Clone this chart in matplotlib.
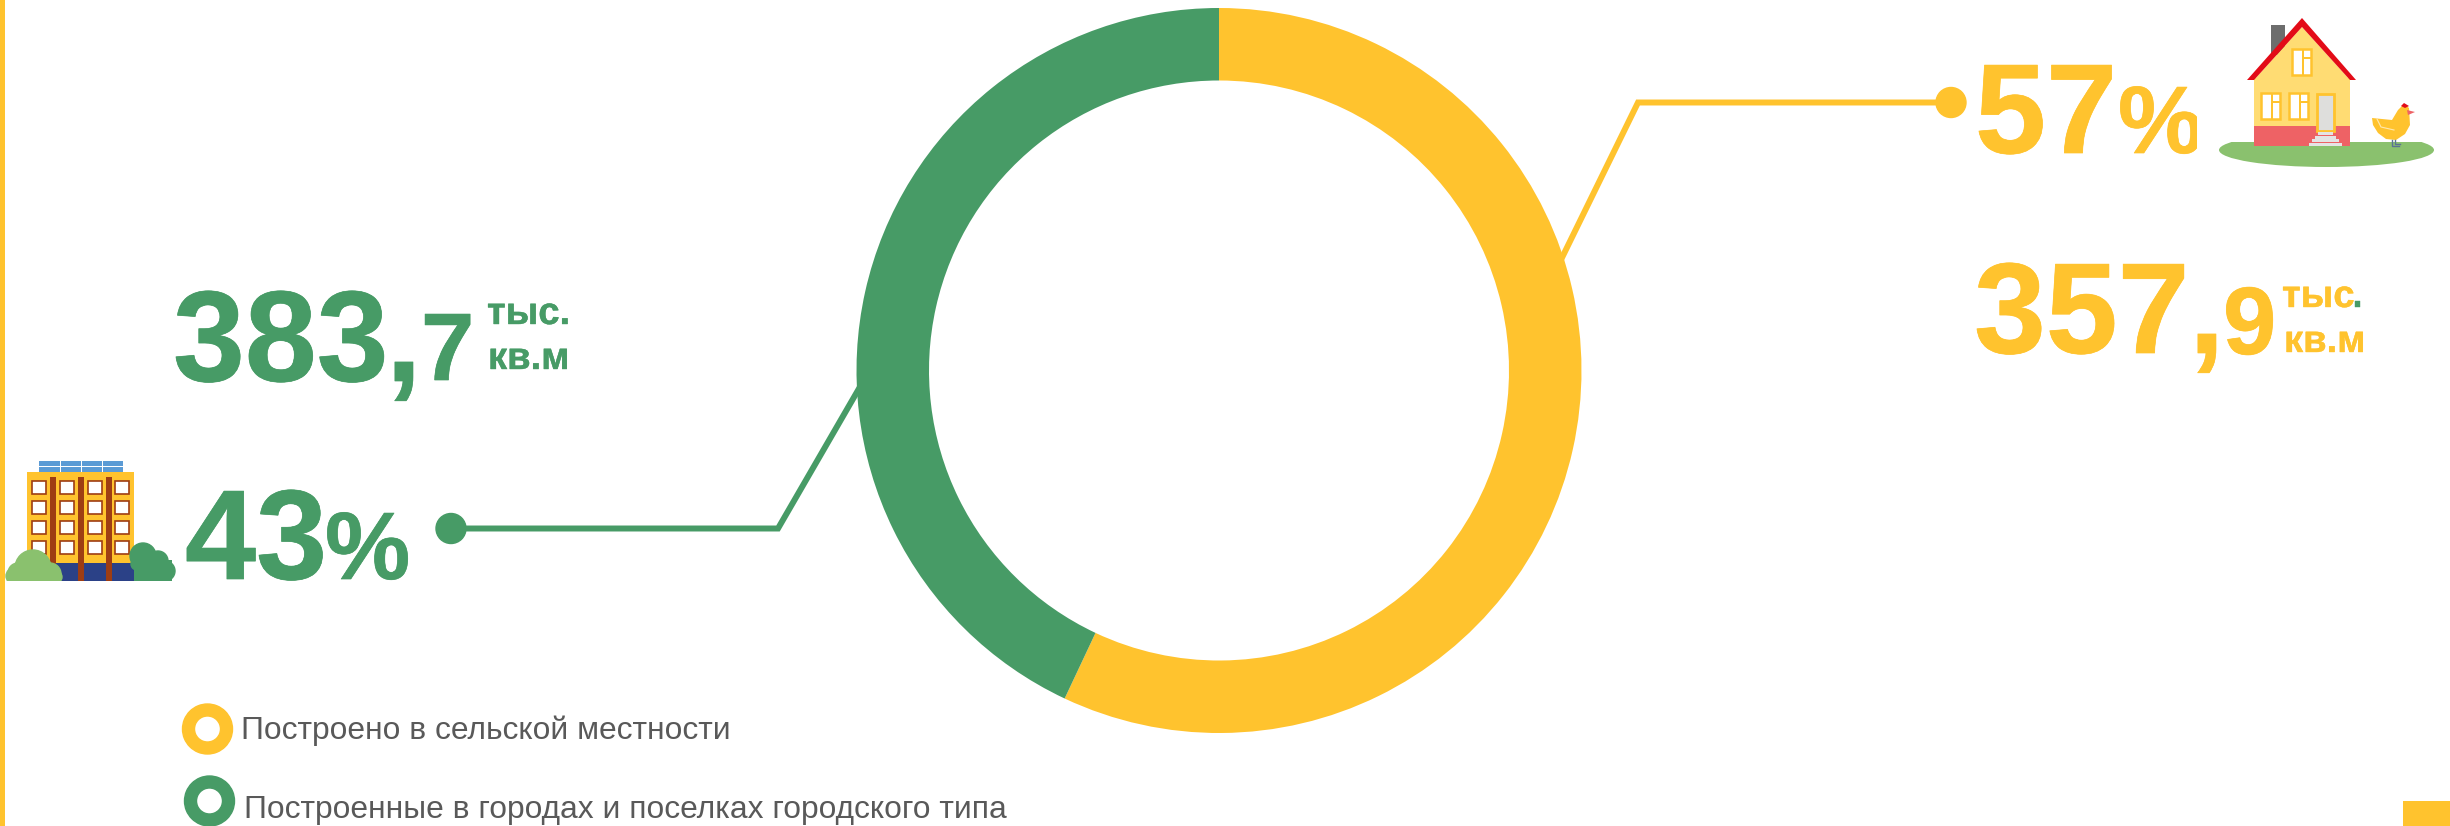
import matplotlib
matplotlib.use("Agg")
import matplotlib.pyplot as plt
import matplotlib.patches as mpatches
import matplotlib.patheffects as pe

plt.rcParams['font.family'] = ['Liberation Sans', 'DejaVu Sans']

# Data
legend_labels = ["Построено в сельской местности", "Построенные в городах и поселках городского типа"]
shares = [57, 43]
area_whole = ["357,", "383,"]
area_fraction = ["9", "7"]
unit_top = "тыс"
unit_dot = "."
unit_bottom = "кв.м"

# Colors
yellow = "#FFC32E"
green = "#479B66"
gray_text = "#595959"
brown = "#9E3D13"
light_green = "#8AC16E"

fig = plt.figure(figsize=(24.5, 8.26), dpi=100)

# Overlay in pixels of the picture, y goes down
ax = fig.add_axes([0, 0, 1, 1])
ax.set_xlim(0, 2450)
ax.set_ylim(826, 0)
ax.axis("off")


def rect(x0, y0, x1, y1, color, **kw):
	ax.add_patch(mpatches.Rectangle((x0, y0), x1 - x0, y1 - y0, facecolor=color, edgecolor=kw.pop("edgecolor", "none"), **kw))


def poly(points, color, **kw):
	ax.add_patch(mpatches.Polygon(points, closed=True, facecolor=color, edgecolor="none", **kw))


def big_text(x, y, s, size, color, stroke=0.5, **kw):
	t = ax.text(x, y, s, fontsize=size, color=color, fontweight="bold", ha="left", va="baseline", **kw)
	t.set_path_effects([pe.withStroke(linewidth=stroke, foreground=color)])
	return t


# Page decoration
rect(0, 0, 5, 826, yellow)
rect(2403, 801, 2450, 826, yellow)

# Leader lines
ax.plot([1555, 1638, 1951], [272, 102.5, 102.5], color=yellow, lw=4.3, solid_joinstyle="miter")
ax.add_patch(mpatches.Circle((1951, 102.5), 15, color=yellow))
ax.plot([451, 778, 868], [528.5, 528.5, 373], color=green, lw=4.3, solid_joinstyle="miter")
ax.add_patch(mpatches.Circle((451, 528.5), 15, color=green))

# Yellow labels
big_text(1975, 153, "%d" % shares[0], 92, yellow)
pct = big_text(2118, 153, "%", 69, yellow)
pct.set_clip_on(True)
pct.set_clip_path(mpatches.Rectangle((2100, 0), 96.5, 200, transform=ax.transData))
big_text(1974, 353, area_whole[0][:-1], 93, yellow)
big_text(2189, 353, area_whole[0][-1], 92, yellow)
big_text(2223, 354, area_fraction[0], 69, yellow)
big_text(2282, 307, unit_top, 27.5, yellow, stroke=0.3)
big_text(2352, 307, unit_dot, 27.5, green, stroke=0.3)
big_text(2284, 352, unit_bottom, 27.5, yellow, stroke=0.3)

# Green labels
big_text(173, 381, area_whole[1][:-1], 93, green)
big_text(386, 381, area_whole[1][-1], 92, green)
big_text(421, 380, area_fraction[1], 69, green)
big_text(487, 324, unit_top + unit_dot, 27.5, green, stroke=0.3)
big_text(488, 369, unit_bottom, 27.5, green, stroke=0.3)
big_text(185, 579, "%d" % shares[1], 92, green)
big_text(325, 579, "%", 69, green)

# Legend
ax.add_patch(mpatches.Wedge((207.5, 729), 25, 0, 360, width=12, color=yellow))
ax.add_patch(mpatches.Wedge((209.5, 801), 25, 0, 360, width=12, color=green))
ax.text(241, 739, legend_labels[0], fontsize=22.9, color=gray_text, ha="left", va="baseline")
ax.text(244, 818, legend_labels[1], fontsize=22.9, color=gray_text, ha="left", va="baseline")

# House icon
ground = mpatches.Ellipse((2326.5, 150), 215, 34, facecolor=light_green, edgecolor="none")
ax.add_patch(ground)
ground.set_clip_path(mpatches.Rectangle((2210, 142), 240, 30, transform=ax.transData))
rect(2271, 25, 2285, 55, "#6D6D6D")
rect(2254, 78, 2350, 126, "#FFDC73")
rect(2254, 126, 2350, 146, "#EE6265")
poly([(2302, 27), (2254, 80), (2350, 80)], "#FFDC73")
poly([(2302, 18), (2356, 80), (2350, 80), (2302, 27), (2254, 80), (2247, 80)], "#E30B17")
for x0, y0 in [(2292, 49), (2261, 93), (2289, 93)]:
	rect(x0, y0, x0 + 19, y0 + 26, "white", edgecolor=yellow, linewidth=1.8)
	rect(x0 + 9.5, y0, x0 + 11.5, y0 + 26, yellow)
	rect(x0 + 10, y0 + 8, x0 + 19, y0 + 10, yellow)
rect(2317, 94, 2334, 131, "#DEDEDC", edgecolor=yellow, linewidth=2)
for i in range(4):
	rect(2318 - i * 3, 132 + i * 3.5, 2333 + i * 3, 135 + i * 3.5, "#E4E4E4")

# Hen
poly([(2372, 118), (2392, 120), (2398, 110), (2404, 104), (2409, 108), (2410, 125), (2405, 134), (2396, 140),
	(2386, 139), (2378, 133), (2373, 125)], yellow)
poly([(2407, 110), (2415, 112), (2408, 115)], "#EE6265")
poly([(2401, 106), (2404, 103), (2409, 106), (2405, 108)], "#E30B17")
ax.plot([2392, 2392, 2399], [140, 146, 146], color="#5A7394", lw=1)
ax.plot([2395, 2395, 2400], [140, 144, 144], color="#5A7394", lw=1)
ax.plot([2377, 2381, 2394], [119, 127, 130], color="#FFE9B0", lw=0.8)

# Building icon
rect(39, 461, 123, 472, "#5B9BD5")
for x in [60, 81, 102]:
	rect(x - 0.5, 461, x + 0.5, 472, "white")
rect(39, 466, 123, 467, "white")
rect(27, 472, 134, 563, yellow)
rect(27, 563, 134, 581, "#2B4187")
for x in [50, 78, 106]:
	rect(x, 477, x + 6, 581, brown)
for x in [32, 60, 88, 115]:
	for y in [481, 501, 521, 541]:
		rect(x, y, x + 13.5, y + 13, "white", edgecolor=brown, linewidth=1.2)

# Bushes
bush_clip = mpatches.Rectangle((0, 440), 200, 141, transform=ax.transData)
for x, y, r in [(33, 568, 18), (18, 573, 10), (14, 576, 8), (50, 574, 11), (56, 577, 6)]:
	c = mpatches.Circle((x, y), r, color=light_green)
	ax.add_patch(c)
	c.set_clip_path(bush_clip)
rect(8, 574, 61, 581, light_green)
rect(134, 560, 172, 581, green)
for x, y, r in [(143, 556, 13), (158, 561, 10), (165, 571, 10), (137, 564, 6)]:
	c = mpatches.Circle((x, y), r, color=green)
	ax.add_patch(c)
	c.set_clip_path(bush_clip)

# Donut, clockwise from the top
ax_donut = fig.add_axes([(1219 - 362.5) / 2450, (826 - 370.5 - 362.5) / 826, 725 / 2450, 725 / 826])
ax_donut.pie(shares, colors=[yellow, green], startangle=90, counterclock=False, radius=1,
	wedgeprops={"width": 72.5 / 362.5, "linewidth": 0})
ax_donut.set_xlim(-1, 1)
ax_donut.set_ylim(-1, 1)

plt.savefig("out.png", dpi=100)
